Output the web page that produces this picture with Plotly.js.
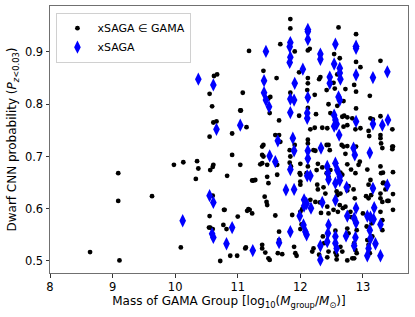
<!DOCTYPE html>
<html><head><meta charset="utf-8">
<script src="https://cdn.plot.ly/plotly-3.0.1.min.js"></script>
<style>body{margin:0;background:#fff}#c{width:415px;height:317px}</style>
</head><body><div id="c"></div>
<script>
const gamaX = [8.64,9.09,9.09,9.11,9.63,9.98,10.13,10.35,10.37,10.33,10.56,10.60,10.61,10.83,10.91,11.04,10.55,10.91,10.09,10.72,10.88,10.99,11.13,10.55,10.54,10.60,10.60,10.79,10.77,10.82,11.00,11.15,11.19,
11.18,10.62,10.67,10.55,11.08,10.59,11.04,10.61,10.66,11.14,
11.60,11.66,11.68,11.39,11.41,11.39,11.41,11.83,11.84,11.91,12.12,12.21,12.24,12.42,12.45,12.47,12.66,12.69,12.72,12.75,12.89,13.10,13.28,13.28,13.29,13.31,13.48,
11.47,11.39,11.36,11.63,11.83,11.85,12.00,11.99,12.12,12.10,12.26,12.28,12.35,12.42,12.45,12.48,12.64,12.67,12.75,12.81,12.88,12.93,13.07,13.12,13.09,13.28,13.29,13.32,13.48,
11.23,11.28,11.47,11.49,11.63,12.00,12.00,12.00,12.27,12.28,12.37,12.40,12.58,12.59,12.64,12.75,12.77,12.85,12.87,13.05,13.09,13.13,13.28,13.28,13.31,13.32,13.41,13.48,
11.17,11.23,11.46,11.47,11.60,11.87,12.00,12.03,12.00,12.16,12.24,12.31,12.33,12.43,12.45,12.53,12.60,12.63,12.68,12.72,12.80,12.81,13.00,13.06,13.14,13.28,13.31,13.48,
10.56,10.78,11.66,11.66,12.90,13.15,13.31,11.12,11.39,11.39,11.44,11.49,11.51,11.64,11.71,11.90,11.92,11.94,12.19,12.21,12.36,12.38,12.43,12.45,12.56,12.56,12.58,12.64,12.67,12.75,12.77,12.75,12.83,12.86,12.86,12.88,12.90,13.07,13.09,13.11,
11.84,11.84,12.61,12.89,11.68,11.91,12.12,12.15,12.54,12.63,12.89,12.96,13.28,11.41,11.98,11.62,12.12,12.12,12.32,12.30,12.42,12.55,12.72,12.89,12.86,11.84,12.11,12.23,11.52,11.49,13.11,12.45,12.59,12.69,12.12,12.89,11.51,11.05,11.98,12.25,12.48,12.67,12.70,12.75,12.83,13.12,13.16,13.28,13.47,11.66,12.16,12.23,12.35,12.43,12.69,12.75,12.88,12.96,13.09,12.12,12.59,12.53,
13.47,13.47,13.39,13.36,13.33,11.43,12.58,12.30,11.25,12.02,12.95];
const gamaY = [0.517,0.668,0.615,0.501,0.624,0.684,0.689,0.691,0.677,0.657,0.674,0.680,0.684,0.663,0.703,0.684,0.738,0.744,0.526,0.500,0.510,0.510,0.526,0.586,0.564,0.561,0.625,0.598,0.569,0.561,0.585,0.596,0.598,
0.902,0.854,0.857,0.820,0.822,0.796,0.788,0.765,0.767,0.756,
0.741,0.741,0.728,0.719,0.722,0.703,0.700,0.712,0.700,0.722,0.725,0.712,0.711,0.722,0.722,0.712,0.722,0.719,0.705,0.720,0.719,0.739,0.741,0.735,0.725,0.716,0.719,
0.684,0.687,0.685,0.684,0.688,0.681,0.686,0.668,0.681,0.668,0.674,0.686,0.679,0.668,0.661,0.674,0.669,0.665,0.685,0.675,0.668,0.684,0.675,0.655,0.646,0.681,0.668,0.669,0.670,
0.654,0.655,0.661,0.649,0.665,0.665,0.652,0.646,0.646,0.637,0.641,0.629,0.633,0.626,0.629,0.635,0.643,0.637,0.620,0.624,0.620,0.626,0.629,0.620,0.613,0.649,0.615,0.628,
0.599,0.591,0.613,0.607,0.587,0.588,0.594,0.599,0.561,0.617,0.613,0.612,0.592,0.604,0.591,0.598,0.594,0.607,0.601,0.604,0.594,0.584,0.591,0.566,0.572,0.594,0.578,0.598,
0.564,0.598,0.556,0.540,0.559,0.547,0.559,0.524,0.531,0.524,0.516,0.505,0.502,0.515,0.513,0.527,0.515,0.510,0.518,0.524,0.547,0.534,0.507,0.518,0.558,0.516,0.511,0.527,0.518,0.562,0.553,0.501,0.505,0.505,0.534,0.521,0.515,0.540,0.531,0.515,
0.963,0.945,0.947,0.934,0.915,0.901,0.903,0.906,0.896,0.888,0.881,0.871,0.883,0.864,0.861,0.850,0.850,0.840,0.852,0.848,0.827,0.830,0.829,0.824,0.837,0.822,0.827,0.818,0.814,0.811,0.816,0.800,0.797,0.806,0.793,0.792,0.783,0.788,0.778,0.781,0.783,0.776,0.778,0.775,0.773,0.773,0.771,0.777,0.752,0.769,0.752,0.755,0.755,0.754,0.757,0.760,0.752,0.754,0.749,0.732,0.857,0.841,
0.719,0.714,0.615,0.637,0.650,0.623,0.503,0.512,0.654,0.570,0.690];
const sagaX = [10.37,10.61,10.66,11.04,10.12,10.55,10.61,10.59,10.61,10.91,10.82,
12.12,12.12,12.12,11.84,11.83,11.45,12.56,12.89,12.89,12.32,12.32,11.84,11.83,12.54,12.04,12.63,12.63,12.64,13.39,13.16,12.89,12.47,12.47,11.91,11.42,11.42,11.45,11.50,11.84,11.90,12.12,12.61,12.63,11.84,12.11,12.11,12.54,12.56,12.54,12.58,12.89,13.16,13.31,13.40,11.64,12.62,
11.88,11.51,11.60,11.90,12.12,12.12,12.33,12.85,12.87,13.11,11.84,12.11,12.16,12.43,12.44,12.45,12.56,12.59,12.63,12.56,12.63,12.74,13.16,13.39,11.77,11.90,12.06,12.10,12.06,12.17,12.35,12.56,11.99,12.75,12.89,12.86,12.89,13.07,13.12,13.18,13.17,13.28,12.05,12.08,12.10,11.84,12.45,12.44,12.43,12.56,12.56,12.58,12.73,12.88,12.86,13.11,13.12,13.09,13.20,12.32,11.66,11.24,13.07,13.28,12.32];
const sagaY = [0.848,0.837,0.752,0.760,0.577,0.625,0.612,0.552,0.545,0.564,0.533,
0.943,0.939,0.924,0.918,0.910,0.901,0.915,0.911,0.907,0.896,0.886,0.890,0.880,0.877,0.867,0.869,0.860,0.848,0.862,0.851,0.856,0.852,0.840,0.840,0.845,0.822,0.808,0.795,0.810,0.808,0.813,0.814,0.808,0.784,0.783,0.773,0.779,0.770,0.758,0.762,0.767,0.762,0.760,0.770,0.730,0.741,
0.735,0.701,0.690,0.711,0.711,0.696,0.716,0.716,0.703,0.707,0.675,0.663,0.663,0.681,0.668,0.656,0.687,0.674,0.654,0.649,0.661,0.641,0.639,0.645,0.636,0.637,0.617,0.610,0.605,0.601,0.612,0.616,0.586,0.586,0.601,0.582,0.573,0.586,0.584,0.602,0.580,0.570,0.569,0.556,0.550,0.556,0.569,0.553,0.537,0.547,0.534,0.524,0.548,0.545,0.529,0.559,0.543,0.524,0.533,0.529,0.535,0.520,0.510,0.510,0.502];
const xTicks = [8,9,10,11,12,13];
const yTicks = [0.5,0.6,0.7,0.8,0.9];
const seriesNames = ['xSAGA \u2208 GAMA','xSAGA'];

const F = 'DejaVu Sans, sans-serif';
const data = [
 {x: gamaX, y: gamaY, mode:'markers', type:'scatter', name: seriesNames[0],
  marker:{color:'#000', size:4.8, symbol:'circle'}},
 {x: sagaX, y: sagaY, mode:'markers', type:'scatter', name: seriesNames[1],
  marker:{color:'#0000ff', size:9.5, symbol:'diamond-tall'}}
];
const axisCommon = {showgrid:false, zeroline:false, showline:true, mirror:true, linecolor:'#707070', linewidth:1,
  ticks:'outside', ticklen:3.5, tickcolor:'#333', tickfont:{family:F,size:11.5,color:'#000'}};
const layout = {
 width:415, height:317, margin:{l:50,r:7,t:6,b:44},
 paper_bgcolor:'#fff', plot_bgcolor:'#fff', showlegend:true,
 font:{family:F, color:'#000'},
 xaxis:Object.assign({}, axisCommon, {range:[8,13.72], tickvals:xTicks, ticktext:xTicks.map(String),
   title:{text:'Mass of GAMA Group [log<sub>10</sub>(<i>M</i><sub>group</sub>/<i>M</i><sub>\u2299</sub>)]', font:{family:F,size:12}, standoff:3}}),
 yaxis:Object.assign({}, axisCommon, {range:[0.477,0.988], tickvals:yTicks, ticktext:yTicks.map(v=>v.toFixed(1)),
   title:{text:'Dwarf CNN probability (<i>P</i><sub><i>z</i>&lt;0.03</sub>)', font:{family:F,size:12}, standoff:5}}),
 legend:{x:0.018, y:0.975, xanchor:'left', yanchor:'top', bgcolor:'rgba(255,255,255,0.8)', bordercolor:'#d0d0d0', borderwidth:1,
   font:{family:F,size:11}, itemwidth:30, tracegroupgap:0}
};
Plotly.newPlot('c', data, layout, {staticPlot:true, displayModeBar:false});
</script></body></html>
